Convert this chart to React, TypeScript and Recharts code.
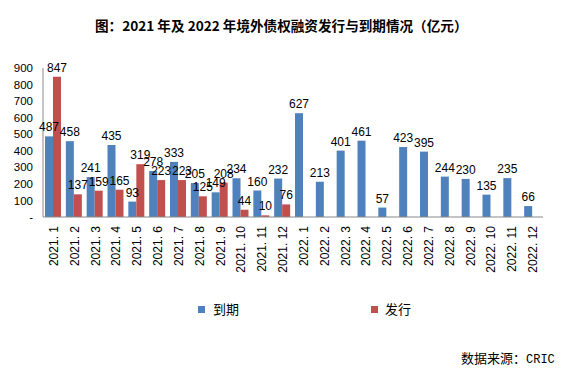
import { BarChart, Bar, XAxis, YAxis, LabelList } from "recharts"

const MONTHS = [
  "2021. 1", "2021. 2", "2021. 3", "2021. 4", "2021. 5", "2021. 6",
  "2021. 7", "2021. 8", "2021. 9", "2021. 10", "2021. 11", "2021. 12",
  "2022. 1", "2022. 2", "2022. 3", "2022. 4", "2022. 5", "2022. 6",
  "2022. 7", "2022. 8", "2022. 9", "2022. 10", "2022. 11", "2022. 12",
]

// 到期
const MATURITY = [487, 458, 241, 435, 93, 278, 333, 205, 149, 234, 160, 232, 627, 213, 401, 461, 57, 423, 395, 244, 230, 135, 235, 66]

// 发行 (no 2022 figures)
const ISSUANCE: (number | null)[] = [
  847, 137, 159, 165, 319, 223, 223, 125, 208, 44, 10, 76,
  null, null, null, null, null, null, null, null, null, null, null, null,
]

const Y_TICKS = [0, 100, 200, 300, 400, 500, 600, 700, 800, 900]

const BLUE = "#4F81BD"
const RED = "#C0504D"
const LATIN = "'Liberation Sans', Arial, sans-serif"
const CJK = "'Noto Sans CJK SC', sans-serif"

const data = MONTHS.map((month, i) => ({ month, maturity: MATURITY[i], issue: ISSUANCE[i] }))

function MonthTick({ x, y, payload }: { x?: number; y?: number; payload?: { value: string } }) {
  const tx = (x ?? 0) + 0.5
  const ty = (y ?? 0) + 1
  return (
    <text
      x={tx}
      y={ty}
      transform={`rotate(-90, ${tx}, ${ty})`}
      textAnchor="end"
      dominantBaseline="central"
      fontSize={12}
      fontFamily={LATIN}
      fill="#000"
    >
      {payload?.value}
    </text>
  )
}

export default function App() {
  return (
    <div
      style={{
        position: "absolute",
        left: 0,
        top: 0,
        width: 568,
        height: 373,
        background: "#fff",
        overflow: "hidden",
      }}
    >
      <div
        style={{
          position: "absolute",
          left: 95,
          top: 17,
          fontFamily: CJK,
          fontWeight: 700,
          fontSize: 13.6,
          lineHeight: "16px",
          whiteSpace: "nowrap",
          color: "#000",
        }}
      >
        图：2021 年及 2022 年境外债权融资发行与到期情况（亿元）
      </div>

      <div style={{ position: "absolute", left: 0, top: 0 }}>
        <BarChart
          width={568}
          height={300}
          data={data}
          margin={{ top: 68, right: 25, left: 3, bottom: 21 }}
          barGap={0}
        >
          <XAxis
            dataKey="month"
            interval={0}
            tickLine={false}
            axisLine={{ stroke: "#898989" }}
            height={62}
            tick={<MonthTick />}
          />
          <YAxis
            width={40}
            domain={[0, 900]}
            ticks={Y_TICKS}
            interval={0}
            tickLine={false}
            tickMargin={4}
            axisLine={{ stroke: "#898989" }}
            tickFormatter={(v: number) => (v === 0 ? "-" : String(v))}
            tick={{ fontSize: 11.5, fill: "#000", fontFamily: LATIN }}
          />
          <Bar dataKey="maturity" fill={BLUE} barSize={8} isAnimationActive={false}>
            <LabelList dataKey="maturity" position="top" offset={5} fontSize={12} fill="#000" fontFamily={LATIN} />
          </Bar>
          <Bar dataKey="issue" fill={RED} barSize={8} isAnimationActive={false}>
            <LabelList dataKey="issue" position="top" offset={5} fontSize={12} fill="#000" fontFamily={LATIN} />
          </Bar>
        </BarChart>
      </div>

      <div style={{ position: "absolute", left: 198, top: 306, width: 7, height: 7, background: BLUE }} />
      <div
        style={{ position: "absolute", left: 213, top: 301, fontFamily: CJK, fontSize: 13, lineHeight: "16px", color: "#000" }}
      >
        到期
      </div>
      <div style={{ position: "absolute", left: 371, top: 306, width: 7, height: 7, background: RED }} />
      <div
        style={{ position: "absolute", left: 385, top: 301, fontFamily: CJK, fontSize: 13, lineHeight: "16px", color: "#000" }}
      >
        发行
      </div>

      <div
        style={{
          position: "absolute",
          left: 461,
          top: 350,
          fontFamily: CJK,
          fontSize: 13,
          lineHeight: "16px",
          whiteSpace: "nowrap",
          color: "#000",
        }}
      >
        数据来源：<span style={{ fontFamily: "'Liberation Mono', monospace", fontSize: 12 }}>CRIC</span>
      </div>
    </div>
  )
}
